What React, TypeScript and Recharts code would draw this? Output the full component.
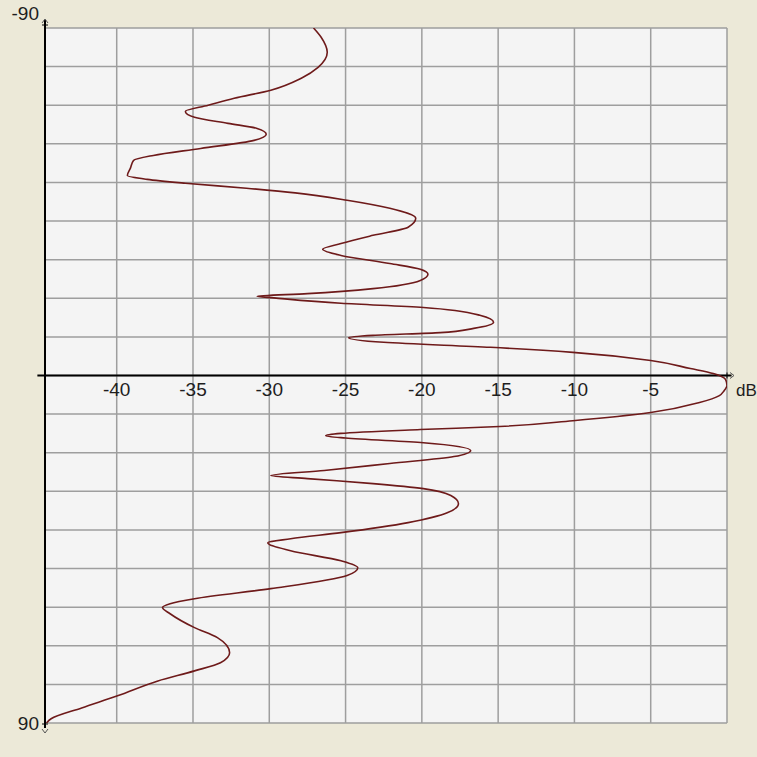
import React from 'react';
import { LineChart, Line, XAxis, YAxis, CartesianGrid, ReferenceLine, ReferenceDot } from 'recharts';

const angles = [
  -90, -87.6, -83.7, -79.8, -77, -73.9, -71.8, -70, -68.4, -66.9, -65.3, -64, -62.5, -60.9,
  -58.8, -57, -55.7, -53.7, -51.8, -50.8, -49.8, -48.5, -47.3, -45.4, -43.3, -40.7, -38.4,
  -36.3, -34.2, -32.7, -31.1, -29, -27.5, -26.2, -24.6, -22.5, -21.2, -20.5, -20.1, -18.7,
  -17.6, -15.6, -13.8, -12.2, -11.1, -10.4, -9.8, -8.6, -7.3, -6.0, -3.9, -1.8, -0.5, 1.0,
  2.5, 4.0, 5.2, 7, 9.6, 11.7, 13.2, 14, 15, 15.6, 16.2, 17.4, 19.4, 21, 22.8, 24.6, 25.9,
  26.7, 28, 29.3, 31.1, 33.2, 35.5, 38.1, 40.7, 42.3, 43.3, 45.4, 48, 49.8, 51.8, 55.2, 57.8,
  59.1, 60.1, 61.7, 65.3, 67.9, 71.8, 74.4, 76.5, 79.1, 82.9, 86.1, 88.9, 90,
];

const dbValues = [
  -27.1, -26.6, -26.2, -26.8, -27.9, -29.9, -32.3, -34.0, -35.5, -34.9, -32.7, -30.8, -30.2, -31.0,
  -34.5, -37.6, -38.9, -39.1, -39.3, -38.0, -35.5, -31.5, -28.3, -24.9, -22.1, -20.4, -20.9,
  -23.2, -25.3, -26.5, -25.3, -22.1, -20.1, -19.6, -20.1, -23.2, -27.5, -30.8, -29.7, -25.3,
  -19.9, -16.2, -15.3, -16.6, -18.8, -23.2, -24.8, -22.5, -15.5, -10.1, -5.0, -2.4, -0.9, -0.1,
  0, -0.2, -0.5, -1.8, -5.0, -10.1, -14.9, -20.1, -25.3, -26.3, -25.0, -19.9, -16.8, -17.9, -22.1, -26.4, -29.9,
  -27.5, -23.2, -19.9, -18.1, -17.6, -18.3, -20.9, -25.3, -28.6, -30.1, -28.6, -25.3, -24.2, -24.9, -29.9, -34.9,
  -36.5, -37.0, -36.5, -34.9, -33.4, -32.6, -33.2, -34.9, -37.3, -39.9, -42.3, -44.3, -44.6,
];

const dbTickLabels = [-40, -35, -30, -25, -20, -15, -10, -5];
const dbGridTicks = [-40, -35, -30, -25, -20, -15, -10, -5, 0];
const angleTicks = [-90, -80, -70, -60, -50, -40, -30, -20, -10, 0, 10, 20, 30, 40, 50, 60, 70, 80, 90];
const angleLabelValues = [-90, 90];
const dbDomain = [-44.7, 0];
const angleDomain = [-90, 90];
const unitLabel = 'dB';

const data = angles.map((a, i) => ({ angle: a, db: dbValues[i] }));

const FONT = '"Liberation Sans", Arial, sans-serif';
const TEXT = '#1e1e1e';

const YTick = (props: any) => {
  const { x, y, payload } = props;
  const v = payload.value;
  if (!angleLabelValues.includes(v)) return <g />;
  const top = v === angleLabelValues[0];
  const ax = x + 6;
  return (
    <g>
      <text x={x} y={top ? y - 15 : y} dy="0.35em" textAnchor="end" fontSize={19} fill={TEXT} fontFamily={FONT}>
        {v}
      </text>
      {top ? (
        <g stroke="#000" strokeWidth={1} fill="none">
          <line x1={ax} y1={y} x2={ax} y2={y - 8} strokeWidth={2} />
          <line x1={ax - 3} y1={y - 3} x2={ax + 3} y2={y - 3} />
          <polyline points={`${ax - 3},${y - 5} ${ax},${y - 9} ${ax + 3},${y - 5}`} stroke="#555" />
        </g>
      ) : (
        <g stroke="#000" strokeWidth={1} fill="none">
          <line x1={ax} y1={y} x2={ax} y2={y + 5} strokeWidth={2} />
          <line x1={ax - 3} y1={y + 1} x2={ax + 3} y2={y + 1} />
          <polyline points={`${ax - 3},${y + 6} ${ax},${y + 10} ${ax + 3},${y + 6}`} stroke="#555" />
        </g>
      )}
    </g>
  );
};

const UnitLabel = (props: any) => {
  const vb = props.viewBox || {};
  const cx = (vb.x || 0) + (vb.width || 0) / 2;
  const cy = (vb.y || 0) + (vb.height || 0) / 2;
  return (
    <g>
      <line x1={cx} y1={cy - 3} x2={cx} y2={cy + 3} stroke="#000" strokeWidth={1} />
      <polyline points={`${cx + 3},${cy - 3} ${cx + 7},${cy} ${cx + 3},${cy + 3}`} stroke="#555" fill="none" />
      <text x={cx + 9} y={cy + 15} dy="0.35em" textAnchor="start" fontSize={17} fill={TEXT} fontFamily={FONT}>
        {unitLabel}
      </text>
    </g>
  );
};

export default function App() {
  return (
    <div style={{ position: 'absolute', left: 0, top: 0, width: 757, height: 757, background: '#ece9d8', fontFamily: FONT }}>
      <LineChart
        width={757}
        height={757}
        data={data}
        layout="vertical"
        margin={{ top: 28, right: 30, bottom: 34, left: 0 }}
      >
        <CartesianGrid
          stroke="#9e9e9e"
          strokeWidth={1.5}
          fill="#f4f4f4"
          fillOpacity={1}
        />
        <XAxis
          type="number"
          dataKey="db"
          domain={dbDomain}
          ticks={dbGridTicks}
          allowDataOverflow
          hide
        />
        <YAxis
          type="number"
          dataKey="angle"
          domain={angleDomain}
          ticks={angleTicks}
          interval={0}
          allowDataOverflow
          width={45}
          tickSize={0}
          tickMargin={6}
          tickLine={false}
          axisLine={{ stroke: '#000', strokeWidth: 2 }}
          tick={<YTick />}
        />
        <ReferenceLine
          segment={[{ x: -45.2, y: 0 }, { x: 0.3, y: 0 }]}
          ifOverflow="visible"
          stroke="#000"
          strokeWidth={2}
        />
        <Line
          type="monotone"
          dataKey="db"
          stroke="#6e1a1a"
          strokeWidth={1.6}
          dot={false}
          isAnimationActive={false}
        />
        {dbTickLabels.map((t) => (
          <ReferenceDot
            key={t}
            x={t}
            y={0}
            r={0}
            fill="none"
            stroke="none"
            label={{ value: String(t), position: 'bottom', offset: 7, fill: TEXT, fontSize: 19, fontFamily: FONT }}
          />
        ))}
        <ReferenceDot x={0} y={0} r={0} fill="none" stroke="none" ifOverflow="visible" label={<UnitLabel />} />
      </LineChart>
    </div>
  );
}
